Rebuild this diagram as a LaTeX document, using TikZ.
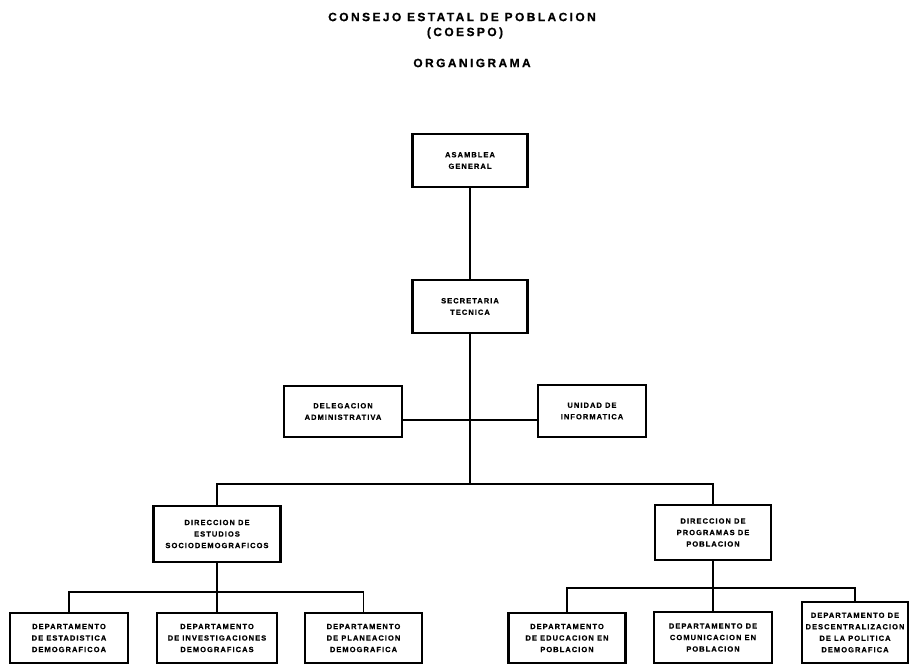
\documentclass[tikz,border=0pt]{standalone}
\usepackage{fontspec}
\newfontfamily\boxfont[LetterSpace=14,FakeBold=0.6]{Liberation Sans Bold}
\newfontfamily\titlefont[LetterSpace=20,FakeBold=0.6]{Liberation Sans Bold}
\begin{document}
\begin{tikzpicture}[x=1pt,y=-1pt,
  orgbox/.style={draw, line width=2.2pt, align=center, inner sep=0pt,
    font=\boxfont\fontsize{7.5}{11.5}\selectfont},
  conn/.style={line width=1.3pt},
  ttl/.style={font=\titlefont\fontsize{12}{14}\selectfont, inner sep=0pt}]
\useasboundingbox (0,0) rectangle (911,666);
% titles
\node[ttl] (t1) at (462,17) {CONSEJO ESTATAL DE POBLACION};
\node[ttl] (t2) at (465,33) {(COESPO)};
\node[ttl] (t3) at (472,63) {ORGANIGRAMA};
% boxes
\node[orgbox, minimum width=115, minimum height=53] (asam) at (470,160.5) {ASAMBLEA\\GENERAL};
\node[orgbox, minimum width=115, minimum height=53] (sec) at (470,306.5) {SECRETARIA\\TECNICA};
\node[orgbox, minimum width=118, minimum height=51] (del) at (343,411.5) {DELEGACION\\ADMINISTRATIVA};
\node[orgbox, minimum width=108, minimum height=52] (uni) at (592,411) {UNIDAD DE\\INFORMATICA};
\node[orgbox, minimum width=127, minimum height=56] (dest) at (217,534) {DIRECCION DE\\ESTUDIOS\\SOCIODEMOGRAFICOS};
\node[orgbox, minimum width=116, minimum height=55] (dprog) at (713,532.5) {DIRECCION DE\\PROGRAMAS DE\\POBLACION};
\node[orgbox, minimum width=118, minimum height=50] (b1) at (69,638) {DEPARTAMENTO\\DE ESTADISTICA\\DEMOGRAFICOA};
\node[orgbox, minimum width=120, minimum height=50] (b2) at (217,638) {DEPARTAMENTO\\DE INVESTIGACIONES\\DEMOGRAFICAS};
\node[orgbox, minimum width=117, minimum height=50] (b3) at (363.5,638) {DEPARTAMENTO\\DE PLANEACION\\DEMOGRAFICA};
\node[orgbox, minimum width=117, minimum height=50] (b4) at (567,638) {DEPARTAMENTO\\DE EDUCACION EN\\POBLACION};
\node[orgbox, minimum width=118, minimum height=51] (b5) at (713,637.5) {DEPARTAMENTO DE\\COMUNICACION EN\\POBLACION};
\node[orgbox, minimum width=106, minimum height=61] (b6) at (855,632.5) {DEPARTAMENTO DE\\DESCENTRALIZACION\\DE LA POLITICA\\DEMOGRAFICA};
% junctions
\coordinate (j1) at (470,420);
\coordinate (j2) at (470,484);
\coordinate (j3) at (217,592);
\coordinate (j4) at (713,588);
% connectors
\draw[conn] (asam.south) -- (sec.north);
\draw[conn] (sec.south) -- (j2);
\draw[conn] (del.east |- j1) -- (uni.west |- j1);
\draw[conn] (dest.north) |- (j2) -| (dprog.north);
\draw[conn] (dest.south) -- (j3);
\draw[conn] (b1.north) |- (j3) -| (b3.north);
\draw[conn] (j3) -- (b2.north);
\draw[conn] (dprog.south) -- (j4);
\draw[conn] (b4.north) |- (j4) -| (b6.north);
\draw[conn] (j4) -- (b5.north);
\end{tikzpicture}
\end{document}
